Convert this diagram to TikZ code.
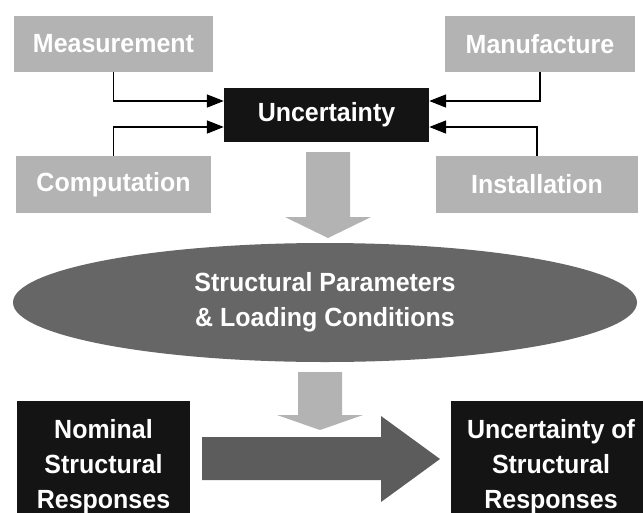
\documentclass[tikz,border=0pt]{standalone}
\usepackage{fontspec}
\setmainfont{Liberation Sans}[FakeStretch=0.95]
\usetikzlibrary{arrows.meta,shapes.geometric,calc}
\definecolor{boxgray}{HTML}{B3B3B3}
\definecolor{boxblack}{HTML}{141414}
\definecolor{ellgray}{HTML}{666666}
\definecolor{arrgray}{HTML}{5C5C5C}
\begin{document}
\begin{tikzpicture}[x=1pt,y=-1pt,
  txt/.style={font=\fontsize{26.3}{35}\selectfont\bfseries, text=white, align=center, inner sep=0pt},
  graybox/.style={rectangle, fill=boxgray, inner sep=0pt, txt},
  blackbox/.style={rectangle, fill=boxblack, inner sep=0pt, txt},
  conn/.style={line width=1.6pt, -{Triangle[length=17pt,width=13pt]}},
  lightblock/.style={fill=boxgray},
  darkblock/.style={fill=arrgray}]
\useasboundingbox (0,0) rectangle (643,512);
\fill[white] (0,0) rectangle (643,512);

% source boxes
\node[graybox, minimum width=199pt, minimum height=56pt] (meas) at (113.5,44) {Measurement};
\node[graybox, minimum width=190pt, minimum height=56pt] (manu) at (540,44) {Manufacture};
\node[graybox, minimum width=195pt, minimum height=57pt] (comp) at (113.5,184.5) {Computation};
\node[graybox, minimum width=202pt, minimum height=57pt] (inst) at (537,184.5) {Installation};

% central box
\node[blackbox, minimum width=205pt, minimum height=54pt] (unc) at (326.5,115) {Uncertainty};

% connectors
\draw[conn] (meas.south) |- ([yshift=14pt]unc.west);
\draw[conn] (comp.north) |- ([yshift=-12pt]unc.west);
\draw[conn] (manu.south) |- ([yshift=14pt]unc.east);
\draw[conn] (inst.north) |- ([yshift=-12pt]unc.east);

% big down arrow
\fill[lightblock] (306,152) -- (350,152) -- (350,217) -- (371,217) -- (328,238) -- (285,217) -- (306,217) -- cycle;

% ellipse
\node[ellipse, fill=ellgray, minimum width=624pt, minimum height=119pt, inner sep=0pt, txt] (param) at (325,302.5) {Structural Parameters\\\& Loading Conditions};

% small down arrow
\fill[lightblock] (298,372) -- (342,372) -- (342,415) -- (363,415) -- (320,430) -- (277,415) -- (298,415) -- cycle;

% bottom boxes
\node[blackbox, minimum width=173pt, minimum height=120pt] (nom) at (103.5,461) {};
\node[txt] (nomtxt) at (103.5,466.5) {Nominal\\Structural\\Responses};
\node[blackbox, minimum width=204pt, minimum height=120pt] (res) at (553,461) {};
\node[txt] (restxt) at (551,466.5) {Uncertainty of\\Structural\\Responses};

% big right arrow
\fill[darkblock] (202,437) -- (381,437) -- (381,416) -- (440,459) -- (381,502) -- (381,480) -- (202,480) -- cycle;
\end{tikzpicture}
\end{document}
